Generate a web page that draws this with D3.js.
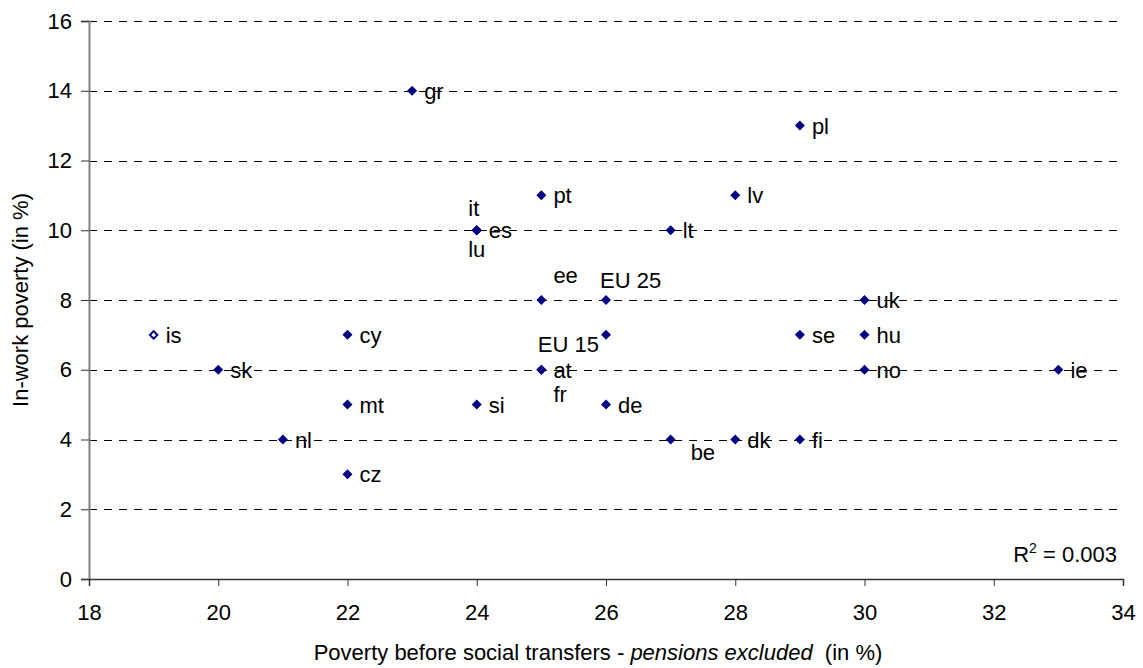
<!DOCTYPE html>
<html>
<head>
<meta charset="utf-8">
<script src="https://cdn.jsdelivr.net/npm/d3@7"></script>
<style>
  body { margin: 0; background: #fff; }
  text { font-family: "Liberation Sans", Arial, sans-serif; fill: #000; }
</style>
</head>
<body>
<div id="chart"></div>
<script>
// values
var countries      = ["gr", "pl", "pt", "lv", "it", "es", "lu", "lt", "ee", "EU 25", "uk", "is", "cy", "EU 15", "se", "hu",
                      "sk", "at", "fr", "no", "ie", "mt", "si", "de", "nl", "be", "dk", "fi", "cz"];
var povertyBefore  = [23, 29, 25, 28, 24, 24, 24, 27, 25, 26, 30, 19, 22, 26, 29, 30,
                      20, 25, 25, 30, 33, 22, 24, 26, 21, 27, 28, 29, 22];
var inWorkPoverty  = [14, 13, 11, 11, 10, 10, 10, 10, 8, 8, 8, 7, 7, 7, 7, 7,
                      6, 6, 6, 6, 6, 5, 5, 5, 4, 4, 4, 4, 3];
var xTicks = [18, 20, 22, 24, 26, 28, 30, 32, 34];
var yTicks = [0, 2, 4, 6, 8, 10, 12, 14, 16];
var rSquared = "0.003";

// where the label sits relative to its marker (default: right of it)
var labelPlacement = {
    "it":    { dx: -3,  dy: -14, anchor: "middle" },
    "lu":    { dx: 0,   dy: 27,  anchor: "middle" },
    "ee":    { dx: 12,  dy: -17, anchor: "start" },
    "EU 25": { dx: -6,  dy: -12, anchor: "start" },
    "EU 15": { dx: -7,  dy: 17,  anchor: "end" },
    "fr":    { dx: 12,  dy: 32,  anchor: "start" },
    "be":    { dx: 20,  dy: 20,  anchor: "start" }
};

var fontSize = "22px";
var width = 1143, height = 668;
var margin = { top: 21, right: 20, bottom: 89, left: 89 };

var svg = d3.select("#chart")
    .append("svg")
        .attr("width", width)
        .attr("height", height);

var x = d3.scaleLinear()
    .domain([18, 34])
    .range([margin.left, width - margin.right]);

var y = d3.scaleLinear()
    .domain([0, 16])
    .range([height - margin.bottom, margin.top]);

// dashed gridlines
svg.append("g")
    .selectAll("line")
    .data(yTicks.filter(function(d) { return d > 0; }))
    .enter()
    .append("line")
        .attr("x1", x(18))
        .attr("x2", x(34))
        .attr("y1", function(d) { return Math.round(y(d)) + 0.5; })
        .attr("y2", function(d) { return Math.round(y(d)) + 0.5; })
        .style("stroke", "#000")
        .style("stroke-width", 1)
        .style("stroke-dasharray", "8,7");

// axes
var yAxis = svg.append("g")
    .attr("transform", "translate(" + margin.left + ",0)")
    .call(d3.axisLeft(y).tickValues(yTicks).tickSize(8).tickPadding(9));
yAxis.select(".domain").style("stroke", "#808080").style("stroke-width", 2);
yAxis.selectAll(".tick line").style("stroke", "#333");
yAxis.selectAll("text").style("font-size", fontSize).style("fill", "#000");

var xAxis = svg.append("g")
    .attr("transform", "translate(0," + y(0) + ")")
    .call(d3.axisBottom(x).tickValues(xTicks).tickSize(7).tickPadding(18));
xAxis.select(".domain").style("stroke", "#333").style("stroke-width", 1.5);
xAxis.selectAll(".tick line").style("stroke", "#333");
xAxis.selectAll("text").style("font-size", fontSize).style("fill", "#000");

// axis titles
svg.append("text")
    .attr("transform", "translate(28," + ((y(0) + y(16)) / 2) + ") rotate(-90)")
    .attr("text-anchor", "middle")
    .style("font-size", fontSize)
    .text("In-work poverty (in %)");

var xTitle = svg.append("text")
    .attr("x", (x(18) + x(34)) / 2 - 8)
    .attr("y", 660)
    .attr("text-anchor", "middle")
    .style("font-size", fontSize);
xTitle.append("tspan").text("Poverty before social transfers - ");
xTitle.append("tspan").style("font-style", "italic").text("pensions excluded");
xTitle.append("tspan").text("  (in %)").attr("xml:space", "preserve");

// points
var points = countries.map(function(c, i) {
    return { name: c, px: povertyBefore[i], py: inWorkPoverty[i] };
});

var diamond = d3.symbol().type(d3.symbolSquare).size(50);
var smallDiamond = d3.symbol().type(d3.symbolSquare).size(28);

svg.append("g")
    .selectAll("path")
    .data(points)
    .enter()
    .append("path")
        .attr("d", function(d) { return d.name == "is" ? smallDiamond() : diamond(); })
        .attr("transform", function(d) { return "translate(" + x(d.px) + "," + y(d.py) + ") rotate(45)"; })
        .style("fill", function(d) { return d.name == "is" ? "#fff" : "#000080"; })
        .style("stroke", function(d) { return d.name == "is" ? "#000080" : "none"; })
        .style("stroke-width", 2);

svg.append("g")
    .selectAll("text")
    .data(points)
    .enter()
    .append("text")
        .attr("x", function(d) { return x(d.px) + (labelPlacement[d.name] ? labelPlacement[d.name].dx : 12); })
        .attr("y", function(d) { return y(d.py) + (labelPlacement[d.name] ? labelPlacement[d.name].dy : 8); })
        .attr("text-anchor", function(d) { return labelPlacement[d.name] ? labelPlacement[d.name].anchor : "start"; })
        .style("font-size", fontSize)
        .text(function(d) { return d.name; });

// R squared note
var r2 = svg.append("text")
    .attr("x", 1117)
    .attr("y", 562)
    .attr("text-anchor", "end")
    .style("font-size", fontSize);
r2.append("tspan").text("R");
r2.append("tspan").attr("dy", -9).style("font-size", "14px").text("2");
r2.append("tspan").attr("dy", 9).text(" = " + rSquared);
</script>
</body>
</html>
